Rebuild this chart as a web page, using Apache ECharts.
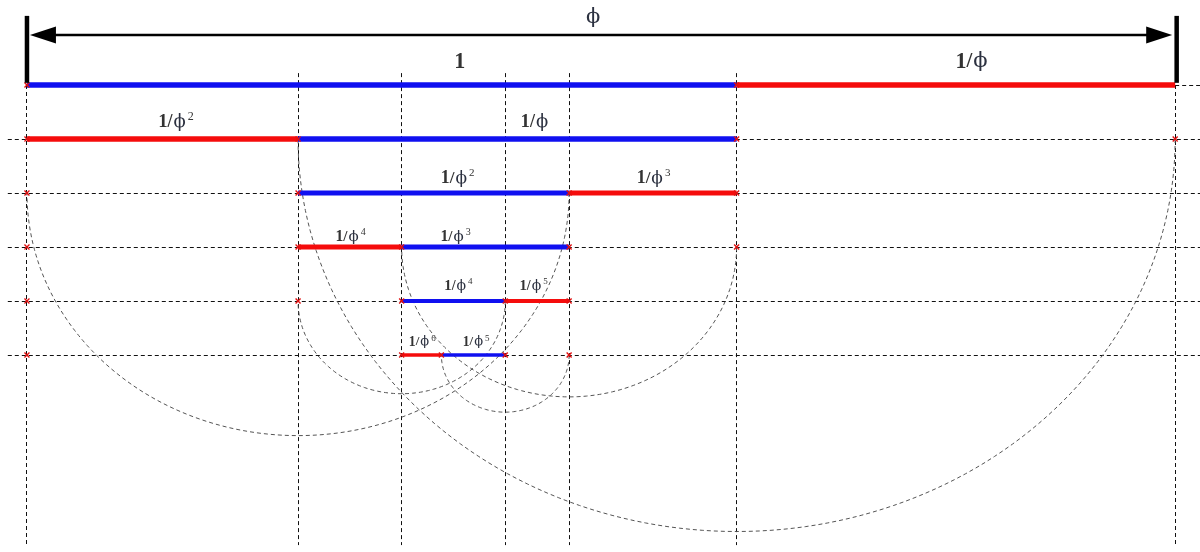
<!DOCTYPE html>
<html><head><meta charset="utf-8">
<script src="https://cdn.jsdelivr.net/npm/echarts@6/dist/echarts.min.js"></script>
<style>html,body{margin:0;padding:0;background:#fff}#c{width:1200px;height:552px}</style>
</head><body><div id="c"></div>
<script>
// ---- data (lengths in units of the "1" segment) ----
const totalLength = 1.618;          // phi
const totalLabel = 'ϕ';
const rows = [0, 1, 2, 3, 4, 5];
const xPoints = [0, 0.382, 0.528, 0.674, 0.764, 1, 1.618];
// segments
const segRow   = [0, 0, 1, 1, 2, 2, 3, 3, 4, 4, 5, 5];
const segStart = [0, 1, 0, 0.382, 0.382, 0.764, 0.382, 0.528, 0.528, 0.674, 0.528, 0.584];
const segEnd   = [1, 1.618, 0.382, 1, 0.764, 1, 0.528, 0.764, 0.674, 0.764, 0.584, 0.674];
const segPart  = ['major','minor','minor','major','major','minor','minor','major','major','minor','minor','major'];
const segPower = [0, 1, 2, 1, 2, 3, 4, 3, 4, 5, 6, 5];
const labelX   = [0.610, 1.331, 0.210, 0.715, 0.607, 0.883, 0.456, 0.604, 0.608, 0.714, 0.557, 0.633];
// semicircle arcs
const arcCenter = [1, 0.382, 0.764, 0.528, 0.674];
const arcRow    = [1, 2, 3, 4, 5];
const arcRadius = [0.618, 0.382, 0.236, 0.146, 0.090];
// red cross marks
const markRow = [0,0, 1,1,1,1, 2,2,2,2, 3,3,3,3,3, 4,4,4,4,4, 5,5,5,5,5];
const markX   = [0,1, 0,0.382,1,1.618, 0,0.382,0.764,1, 0,0.382,0.528,0.764,1, 0,0.382,0.528,0.674,0.764, 0,0.528,0.584,0.674,0.764];

// ---- styles / layout ----
const X_MIN = -0.038, X_MAX = 1.653, Y_MIN = -1.5, Y_MAX = 8.5;
const GUIDE_LEFT = -0.027, GUIDE_TOP = -0.22, GUIDE_BOTTOM = 8.52;
const COLORS = {major: '#1010f0', minor: '#f50c0c'};
const LINE_W = [5.5, 5.5, 5, 5, 4, 3.5];
const FONT_MAIN = [21, 18, 17, 15, 14, 13];
const LABEL_LIFT = [23, 16.5, 14.5, 10, 14.5, 13];
const ASPECT = 0.895;
const TEXT = '#333';
const DASH = [4, 3];
const crisp = v => Math.round(v - 0.5) + 0.5;

function labelText(p) {
  if (p === 0) return '{n|1}';
  if (p === 1) return '{n|1}{sl|/}{p|ϕ}';
  return '{n|1}{sl|/}{p|ϕ}{s|' + p + '}';
}
function labelRich(size) {
  const lh = Math.round(size * 1.25);
  return {
    n: {fontFamily: 'Liberation Serif', fontWeight: 'bold', fontSize: size * 1.05, lineHeight: lh, fill: TEXT},
    sl: {fontFamily: 'Liberation Serif', fontWeight: 'bold', fontSize: size, lineHeight: lh, fill: TEXT, padding: [0, 1, 0, 0]},
    p: {fontFamily: 'DejaVu Serif', fontSize: size, lineHeight: lh, fill: '#2c3140'},
    s: {fontFamily: 'Liberation Serif', fontSize: Math.round(size * 0.66), lineHeight: Math.round(size * 0.72), verticalAlign: 'top', fill: TEXT, padding: [0, 0, 0, 2]}
  };
}

const chart = echarts.init(document.getElementById('c'));
chart.setOption({
  animation: false,
  backgroundColor: '#fff',
  grid: {left: 0, right: 0, top: 4, bottom: 8},
  xAxis: {type: 'value', min: X_MIN, max: X_MAX, show: false},
  yAxis: {type: 'value', min: Y_MIN, max: Y_MAX, inverse: true, show: false},
  series: [
    { // horizontal guides
      type: 'custom', silent: true, z: 1,
      data: rows.map(r => [r === 0 ? totalLength : GUIDE_LEFT, r]),
      renderItem(params, api) {
        const a = api.coord([api.value(0), api.value(1)]);
        const b = api.coord([X_MAX, api.value(1)]);
        const y = crisp(a[1]);
        return {type: 'line', shape: {x1: a[0], y1: y, x2: b[0], y2: y},
          style: {stroke: '#111', lineWidth: 1, lineDash: DASH}};
      }
    },
    { // vertical guides
      type: 'custom', silent: true, z: 1,
      data: xPoints.map(x => [x, (x === 0 || x === totalLength) ? 0 : GUIDE_TOP]),
      renderItem(params, api) {
        const a = api.coord([api.value(0), api.value(1)]);
        const b = api.coord([api.value(0), GUIDE_BOTTOM]);
        const x = crisp(a[0]);
        return {type: 'line', shape: {x1: x, y1: a[1], x2: x, y2: b[1]},
          style: {stroke: '#111', lineWidth: 1, lineDash: DASH}};
      }
    },
    { // arcs
      type: 'custom', silent: true, z: 2,
      data: arcCenter.map((c, i) => [c, arcRow[i], arcRadius[i]]),
      renderItem(params, api) {
        const c = api.coord([api.value(0), api.value(1)]);
        const rx = api.size([api.value(2), 0])[0];
        const ry = rx * ASPECT;
        const pts = [];
        const n = 120;
        for (let k = 0; k <= n; k++) {
          const t = Math.PI * k / n;
          pts.push([c[0] + rx * Math.cos(t), c[1] + ry * Math.sin(t)]);
        }
        return {type: 'polyline', shape: {points: pts},
          style: {stroke: '#555', lineWidth: 1, lineDash: DASH, fill: null}};
      }
    },
    { // segments
      type: 'custom', silent: true, z: 3,
      data: segRow.map((r, i) => [segStart[i], segEnd[i], r, i]),
      renderItem(params, api) {
        const i = api.value(3), r = api.value(2);
        const a = api.coord([api.value(0), r]);
        const b = api.coord([api.value(1), r]);
        return {type: 'line', shape: {x1: a[0], y1: a[1], x2: b[0], y2: b[1]},
          style: {stroke: COLORS[segPart[i]], lineWidth: LINE_W[r], lineCap: 'butt'}};
      }
    },
    { // red marks
      type: 'custom', silent: true, z: 4,
      data: markX.map((x, i) => [x, markRow[i]]),
      renderItem(params, api) {
        const p = api.coord([api.value(0), api.value(1)]);
        const s = 2.5;
        const st = {stroke: '#e01010', lineWidth: 1.4};
        return {type: 'group', children: [
          {type: 'line', shape: {x1: p[0]-s, y1: p[1]-s, x2: p[0]+s, y2: p[1]+s}, style: st},
          {type: 'line', shape: {x1: p[0]-s, y1: p[1]+s, x2: p[0]+s, y2: p[1]-s}, style: st}
        ]};
      }
    },
    { // labels
      type: 'custom', silent: true, z: 5,
      data: segRow.map((r, i) => [labelX[i], r, i]),
      renderItem(params, api) {
        const i = api.value(2), r = api.value(1);
        const p = api.coord([api.value(0), r]);
        return {type: 'text', x: p[0], y: p[1] - LABEL_LIFT[r],
          style: {text: labelText(segPower[i]), rich: labelRich(FONT_MAIN[r]),
            align: 'center', verticalAlign: 'middle'}};
      }
    },
    { // top dimension phi
      type: 'custom', silent: true, z: 6,
      data: [[0, totalLength]],
      renderItem(params, api) {
        const yA = -0.926, yTop = -1.28, yBot = -0.04, yLab = -1.24;
        const a = api.coord([api.value(0), yA]);
        const b = api.coord([api.value(1), yA]);
        const lt = api.coord([api.value(0), yTop]), lb = api.coord([api.value(0), yBot]);
        const rt = api.coord([api.value(1), yTop]), rb = api.coord([api.value(1), yBot]);
        const lab = api.coord([0.798, yLab]);
        const L = 26, H = 8.5;
        return {type: 'group', children: [
          {type: 'line', shape: {x1: a[0] + 10, y1: a[1], x2: b[0] - 10, y2: b[1]}, style: {stroke: '#000', lineWidth: 2.5}},
          {type: 'polygon', shape: {points: [[a[0] + 3, a[1]], [a[0] + 3 + L, a[1] - H], [a[0] + 3 + L, a[1] + H]]}, style: {fill: '#000'}},
          {type: 'polygon', shape: {points: [[b[0] - 3, b[1]], [b[0] - 3 - L, b[1] - H], [b[0] - 3 - L, b[1] + H]]}, style: {fill: '#000'}},
          {type: 'line', shape: {x1: lt[0], y1: lt[1], x2: lb[0], y2: lb[1]}, style: {stroke: '#000', lineWidth: 4.5}},
          {type: 'line', shape: {x1: rt[0] + 1.5, y1: rt[1], x2: rb[0] + 1.5, y2: rb[1]}, style: {stroke: '#000', lineWidth: 4.5}},
          {type: 'text', x: lab[0], y: lab[1], style: {text: totalLabel, fontFamily: 'DejaVu Serif', fontSize: 21, fill: '#2c3140', align: 'center', verticalAlign: 'middle'}}
        ]};
      }
    }
  ]
});
</script></body></html>
